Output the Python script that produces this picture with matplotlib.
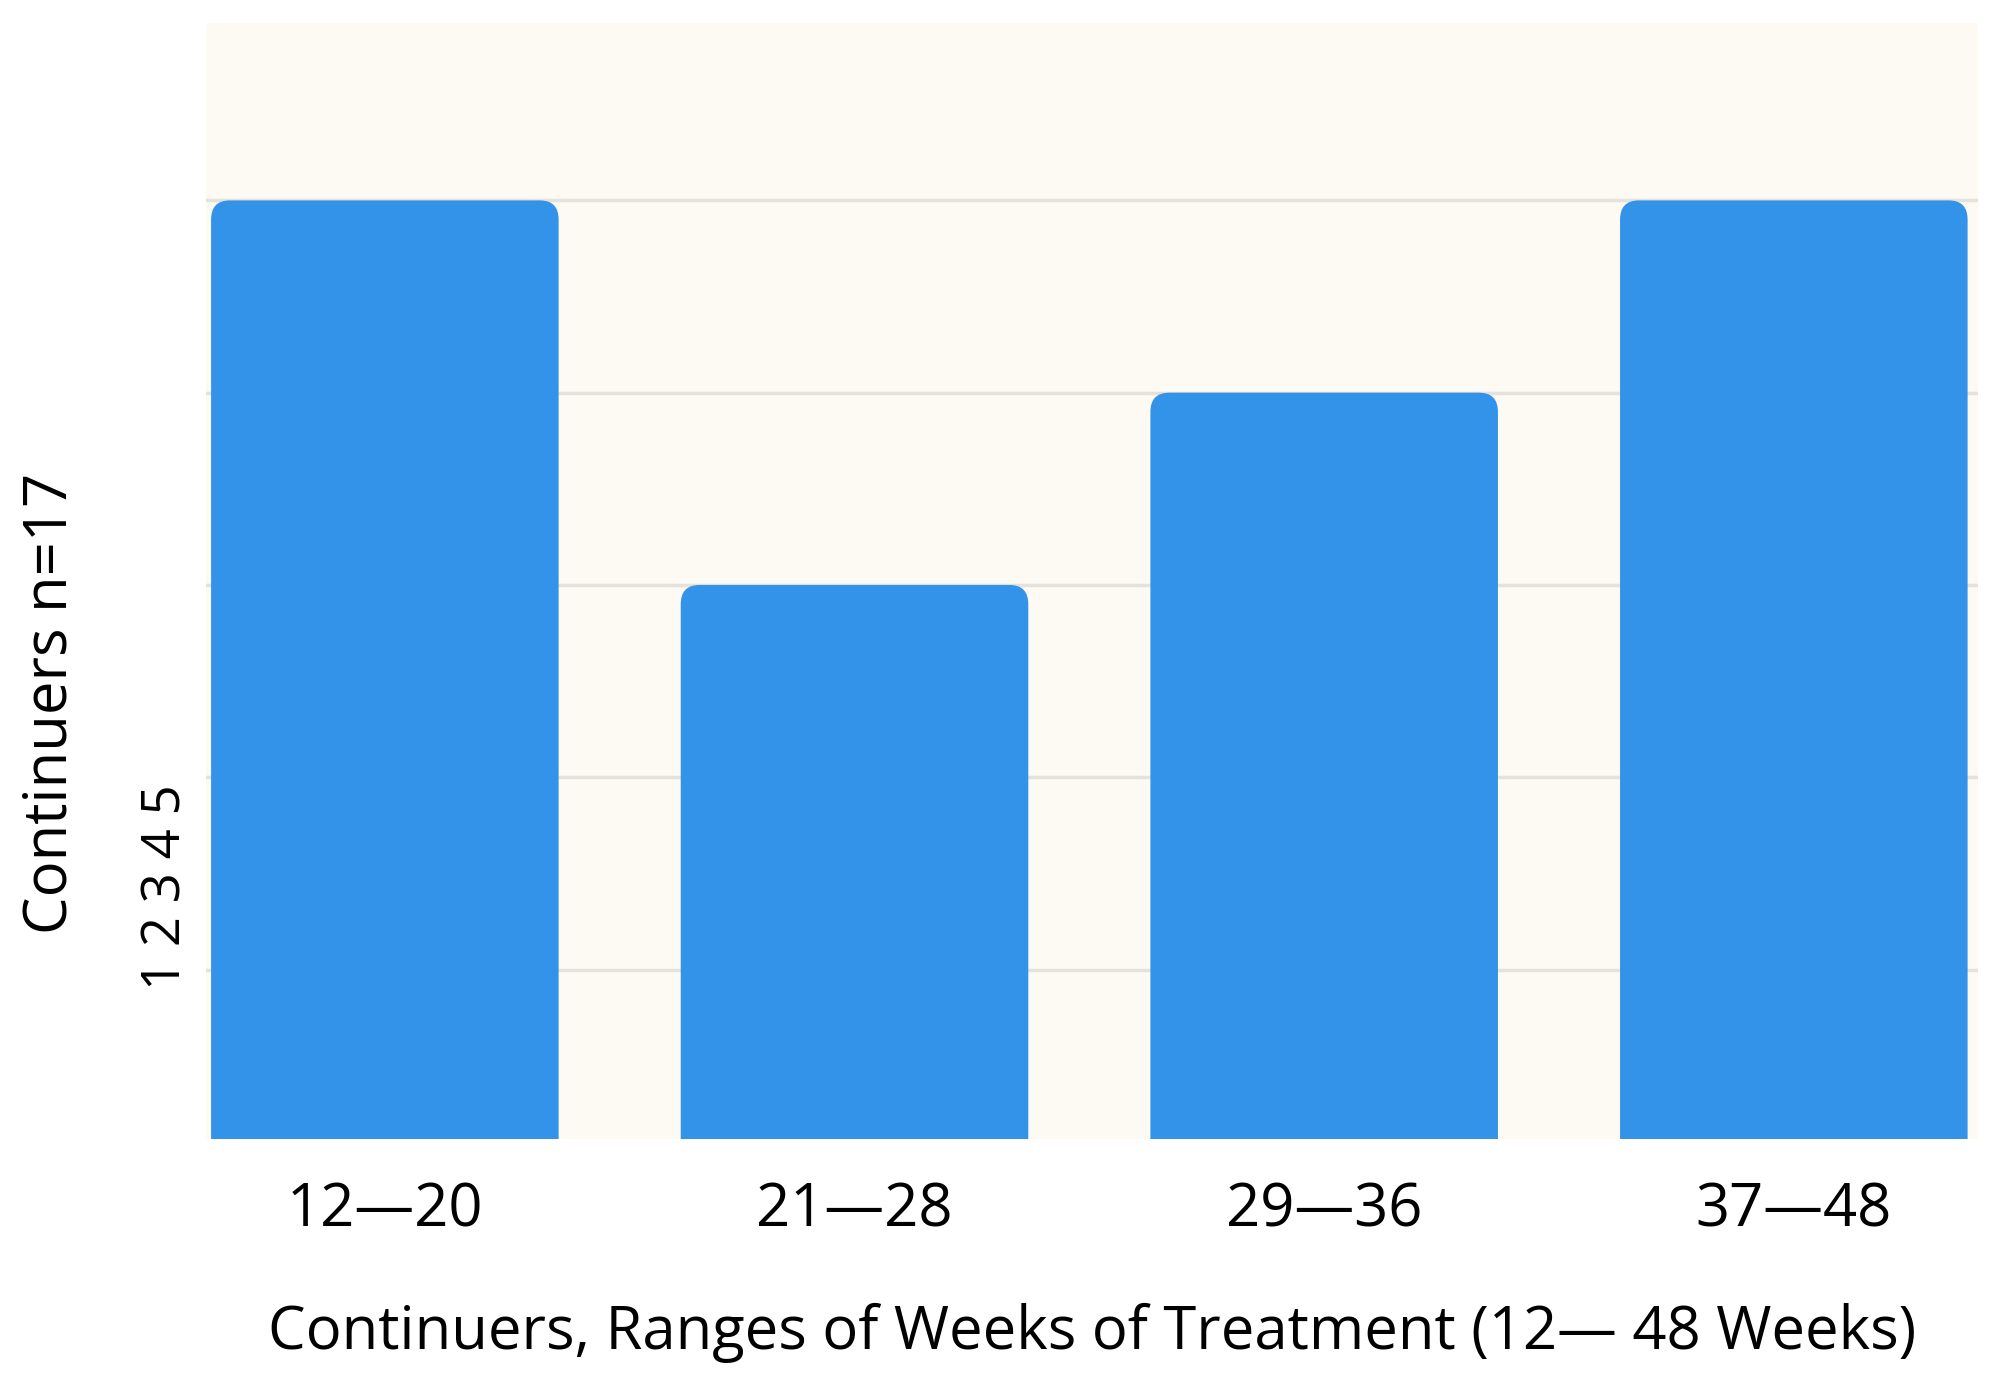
import matplotlib.pyplot as plt
from matplotlib.patches import FancyBboxPatch

# data
categories = ["12\u201420", "21\u201428", "29\u201436", "37\u201448"]
counts = [5, 3, 4, 5]
grid_values = [1, 2, 3, 4, 5]

BAR_COLOR = "#3393E9"
BG_COLOR = "#FDF9F3"
GRID_COLOR = "#E6E1DA"

plt.rcParams['font.family'] = ['Open Sans', 'DejaVu Sans']


def main():
    fig = plt.figure(figsize=(20.05, 13.82), dpi=100)
    ax = fig.add_axes([0.1027, 0.176, 0.8838, 0.807])
    ax.set_facecolor(BG_COLOR)

    x = range(len(categories))
    bars = ax.bar(x, counts, width=0.74, color=BAR_COLOR, zorder=2)

    # swap the plain bars for ones with rounded top corners
    for b in bars:
        bx, by = b.get_x(), b.get_y()
        w, h = b.get_width(), b.get_height()
        r = 0.04
        patch = FancyBboxPatch((bx + r, by), w - 2 * r, h - 2.5 * r,
                               boxstyle=f"round,pad={r}", mutation_aspect=2.5,
                               facecolor=BAR_COLOR, edgecolor="none", zorder=2)
        b.remove()
        ax.add_patch(patch)

    ax.set_xlim(-0.381, 3.392)
    ax.set_ylim(0.12, 5.92)
    ax.set_yticks(grid_values)
    ax.set_yticklabels([])
    ax.yaxis.grid(True, color=GRID_COLOR, linewidth=2.5, zorder=1)
    ax.set_axisbelow(True)
    ax.tick_params(axis='both', length=0)
    ax.set_xticks(list(x))
    ax.set_xticklabels(categories, fontsize=43)
    ax.tick_params(axis='x', pad=30)
    for s in ax.spines.values():
        s.set_visible(False)

    ax.set_xlabel("Continuers, Ranges of Weeks of Treatment (12\u2014 48 Weeks)",
                  fontsize=43, labelpad=45)

    fig.text(0.025, 0.491, "Continuers n=17", rotation=90, fontsize=43,
             ha='center', va='center')
    fig.text(0.083, 0.358, " ".join(str(v) for v in grid_values), rotation=90,
             fontsize=38, ha='center', va='center')

    fig.savefig("out.png", dpi=100, facecolor="white")
    plt.close(fig)


if __name__ == "__main__":
    main()
